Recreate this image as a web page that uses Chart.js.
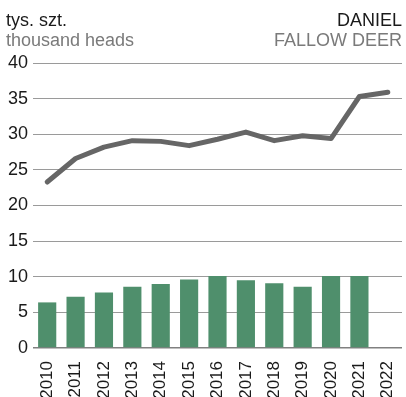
<!DOCTYPE html>
<html>
<head>
<meta charset="utf-8">
<script src="https://cdn.jsdelivr.net/npm/chart.js@4"></script>
<style>
  html, body { margin: 0; padding: 0; background: #fff; }
  #wrap { position: relative; width: 406px; height: 397px; font-family: "Liberation Sans", Arial, sans-serif; }
  #wrap canvas { position: absolute; left: 0; top: 0; }
  .hd { position: absolute; top: 10px; font-size: 18px; line-height: 20px; }
  .hd .sub { color: #7a7a7a; }
  .hd .main { color: #1a1a1a; }
  #hl { left: 6px; }
  #hr { right: 4px; text-align: right; }
</style>
</head>
<body>
<div id="wrap">
  <canvas id="chart" width="406" height="397"></canvas>
  <div class="hd" id="hl"><div class="main">tys. szt.</div><div class="sub">thousand heads</div></div>
  <div class="hd" id="hr"><div class="main">DANIEL</div><div class="sub">FALLOW DEER</div></div>
</div>
<script>
// years on the category axis
const years = ['2010','2011','2012','2013','2014','2015','2016','2017','2018','2019','2020','2021','2022'];
// line series (grey)
const lineVals = [23.3, 26.6, 28.2, 29.1, 29.0, 28.4, 29.3, 30.3, 29.1, 29.8, 29.4, 35.3, 35.9];
// bar series (green), no bar for 2022
const barVals = [6.4, 7.2, 7.8, 8.6, 9.0, 9.6, 10.1, 9.5, 9.1, 8.6, 10.1, 10.1, null];
const yTicks = [0, 5, 10, 15, 20, 25, 30, 35, 40];

const GREEN = '#4f8f6c';
const GREY  = '#666666';

new Chart(document.getElementById('chart'), {
  data: {
    labels: years,
    datasets: [
      { type: 'line', data: lineVals, borderColor: GREY, borderWidth: 5, pointRadius: 0,
        tension: 0, borderCapStyle: 'round', borderJoinStyle: 'round', order: 0 },
      { type: 'bar', data: barVals, backgroundColor: GREEN, barPercentage: 0.64,
        categoryPercentage: 1, order: 1 },
    ]
  },
  options: {
    responsive: false,
    animation: false,
    layout: { padding: { top: 63, right: 4, left: 0, bottom: 0 } },
    plugins: { legend: { display: false }, tooltip: { enabled: false } },
    scales: {
      x: {
        grid: { display: false },
        border: { display: false },
        ticks: { color: '#1a1a1a', font: { family: 'Liberation Sans', size: 17 },
                 minRotation: 90, maxRotation: 90, padding: 5, autoSkip: false },
        // no extra side room for the rotated end labels
        afterFit: s => { s.height = 49; s.paddingLeft = 0; s.paddingRight = 0; }
      },
      y: {
        min: 0, max: 40,
        afterBuildTicks: s => { s.ticks = yTicks.map(v => ({ value: v })); },
        grid: { color: c => c.tick.value === 0 ? '#808080' : '#9a9a9a', lineWidth: c => c.tick.value === 0 ? 1.5 : 1, drawTicks: false },
        border: { display: false },
        ticks: { color: '#1a1a1a', font: { family: 'Liberation Sans', size: 18 }, padding: 5 },
        afterFit: s => { s.width = 33; }
      }
    }
  }
});
</script>
</body>
</html>
